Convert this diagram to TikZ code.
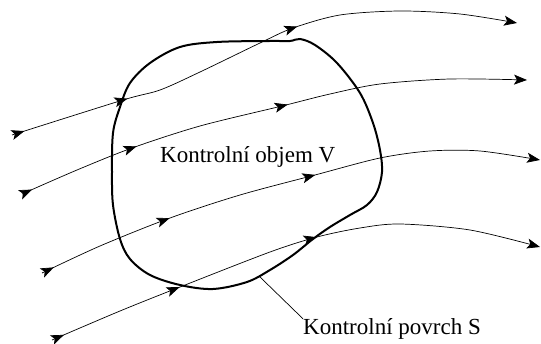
\documentclass[tikz,border=0pt]{standalone}
\usepackage{fontspec}
\setmainfont{Liberation Serif}
\usetikzlibrary{arrows.meta, decorations.markings}

\begin{document}
\begin{tikzpicture}[x=1pt, y=-1pt]
    \tikzstyle{every node} = [inner sep=0pt, font=\fontsize{23}{27}\selectfont]
    \tikzset{>={Stealth[length=13pt, width=10pt, inset=3pt]},
      stream/.style n args={3}{line width=0.7pt, ->, postaction={decorate},
        decoration={markings,
          mark=at position #1 with {\arrow{>}},
          mark=at position #2 with {\arrow{>}},
          mark=at position #3 with {\arrow{>}}}}}
    \useasboundingbox (0, 0) rectangle (541, 344);
    % control surface
    \draw [line width=2pt] plot [smooth cycle, tension=0.55] coordinates {
      (217,42) (270,41) (290,41) (300,39) (315,45) (337,63) (360,93)
      (373,123) (380,150) (382,172) (377,192) (367,205) (350,215)
      (330,227) (313,239) (293,255) (270,270) (247,282) (213,289)
      (180,285) (150,275) (130,259) (120,239) (113,205) (112,172)
      (113,133) (120,107) (130,83) (150,63) (180,47)};
    \coordinate (s) at (260,277);
    % streamlines
    \coordinate (in1) at (12,135);
    \coordinate (out1) at (517,23);
    \coordinate (in2) at (22,194);
    \coordinate (out2) at (527,80);
    \coordinate (in3) at (42,273);
    \coordinate (out3) at (540,160);
    \coordinate (in4) at (52,340);
    \coordinate (out4) at (540,247);
      \draw [stream={13pt}{121pt}{306pt}] plot [smooth] coordinates {(in1) (123,100)
        (160,90) (200,72) (260,43) (293,28) (340,15) (400,11) (460,14) (out1)};
      \draw [stream={11pt}{124pt}{281pt}] plot [smooth] coordinates {(in2) (77,170)
        (132,148) (200,126) (282,106) (330,94) (380,84) (450,79) (out2)};
      \draw [stream={13pt}{139pt}{291pt}] plot [smooth] coordinates {(in3) (100,246)
        (170,218) (240,195) (315,175) (380,158) (430,151) (480,151) (out3)};
      \draw [stream={13pt}{138pt}{284pt}] plot [smooth] coordinates {(in4) (120,311)
        (180,287) (270,252) (317,237) (360,228) (400,224) (470,230) (out4)};
    % labels
    \node (objem) [anchor=base west] at (160,163) {Kontrolní objem V};
    \node (povrch) [anchor=base west] at (303,335) {Kontrolní povrch S};
      \draw [line width=0.7pt] (s) -- (povrch.north west);
\end{tikzpicture}
\end{document}
